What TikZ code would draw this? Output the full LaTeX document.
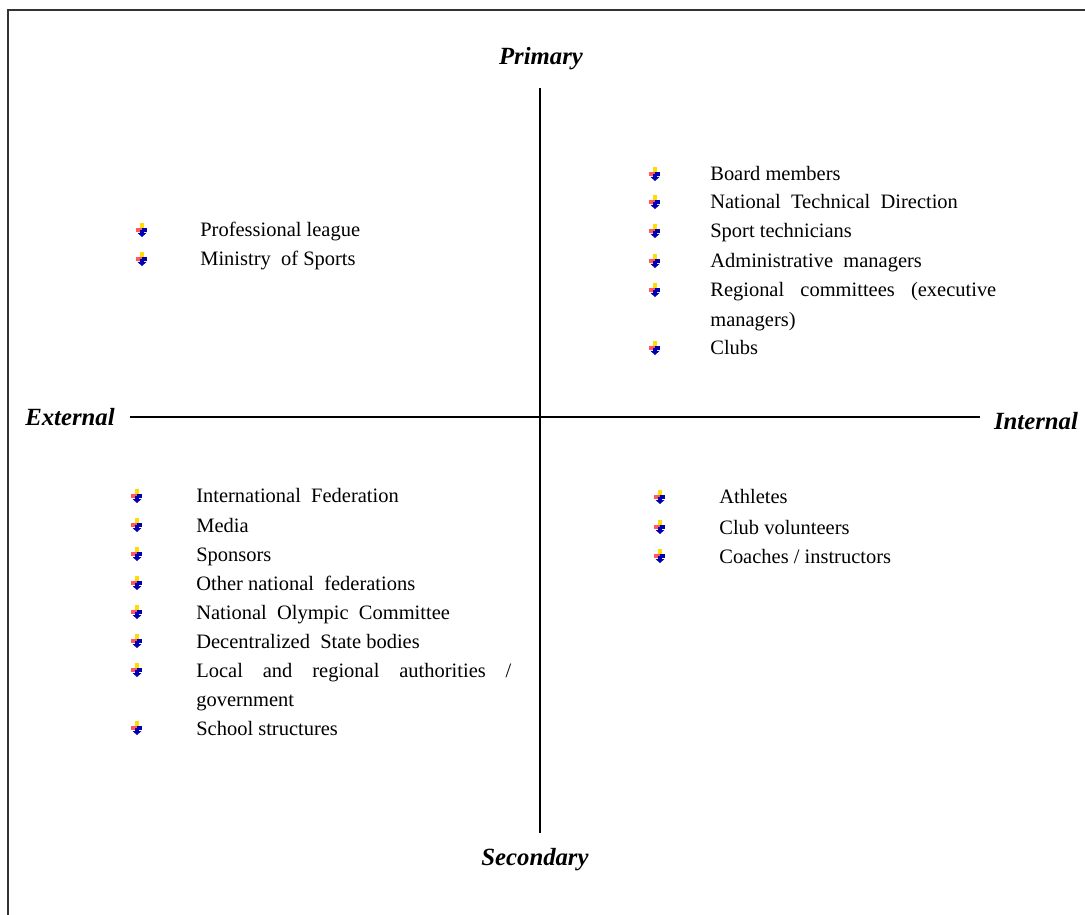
\documentclass[tikz,border=0pt]{standalone}
\usepackage{fontspec}
\setmainfont{Liberation Serif}
\usetikzlibrary{calc}

\begin{document}
\begin{tikzpicture}[x=0.0206cm,y=-0.0206cm]
    % Define the styles for the items and headings
    \tikzset{item/.style={anchor=base west, inner sep=0pt, font=\fontsize{12}{17}\selectfont}}
    \tikzset{wideitem/.style={item, align=justify}}
    \tikzset{heading/.style={inner sep=0pt, font=\fontsize{14.5}{17}\selectfont\bfseries\itshape}}
    \tikzset{axis/.style={draw, line width=0.9pt}}
    \tikzset{downbullet/.pic={
        \fill[yellow!80!orange] (-2,-7) rectangle (2,-1);
        \fill[red!65!white] (-6,-2) rectangle (0,2);
        \fill[blue!70!black] (0,-2) rectangle (5,2);
        \fill[blue!70!black] (-2,0) rectangle (2,3);
        \fill[blue!70!black] (-4.5,3) -- (4.5,3) -- (0,7) -- cycle;
    }}

    \useasboundingbox (0,0) rectangle (1085,915);

    % Frame (only top and left edge are visible)
    \draw[line width=1.2pt, black!80] (8,915) |- (1085,10);

    % Axis ends and headings
    \node[heading] (primary) at (541,59) {Primary};
    \node[heading] (secondary) at (535,860) {Secondary};
    \node[heading] (external) at (70,417) {External};
    \node[heading] (internal) at (1036,421) {Internal};

    \coordinate (top) at (540,88);
    \coordinate (bottom) at (540,833);
    \coordinate (left) at (130,417);
    \coordinate (right) at (980,417);

    \draw[axis] (top) -- (bottom);
    \draw[axis] (left) -- (right);

    % Primary / external
    \node[item] (tl1) at (200,237) {Professional league};
    \node[item] (tl2) at (200,266) {Ministry\ \ of Sports};

    % Primary / internal
    \node[item] (tr1) at (710,181) {Board members};
    \node[item] (tr2) at (710,209) {National\ \ Technical\ \ Direction};
    \node[item] (tr3) at (710,238) {Sport technicians};
    \node[item] (tr4) at (710,268) {Administrative\ \ managers};
    \node[wideitem, text width=5.89cm] (tr5) at (710,297) {Regional committees (executive\linebreak managers)};
    \node[item] (tr6) at (710,355) {Clubs};

    % Secondary / external
    \node[item] (bl1) at (196,503) {International\ \ Federation};
    \node[item] (bl2) at (196,532) {Media};
    \node[item] (bl3) at (196,561) {Sponsors};
    \node[item] (bl4) at (196,590) {Other national\ \ federations};
    \node[item] (bl5) at (196,619) {National\ \ Olympic\ \ Committee};
    \node[item] (bl6) at (196,648) {Decentralized\ \ State bodies};
    \node[wideitem, text width=6.49cm] (bl7) at (196,677) {Local and regional authorities /\linebreak government};
    \node[item] (bl8) at (196,735) {School structures};

    % Secondary / internal
    \node[item] (br1) at (719,504) {Athletes};
    \node[item] (br2) at (719,534) {Club volunteers};
    \node[item] (br3) at (719,563) {Coaches / instructors};

    % Bullets in front of every item
    \foreach \n in {tl1,tl2}
        \pic at ($(\n.base west)+(-58,-7)$) {downbullet};
    \foreach \n in {tr1,tr2,tr3,tr4,tr5,tr6}
        \pic at ($(\n.base west)+(-55,-7)$) {downbullet};
    \foreach \n in {bl1,bl2,bl3,bl4,bl5,bl6,bl7,bl8}
        \pic at ($(\n.base west)+(-59,-7)$) {downbullet};
    \foreach \n in {br1,br2,br3}
        \pic at ($(\n.base west)+(-59,-7)$) {downbullet};
\end{tikzpicture}
\end{document}
